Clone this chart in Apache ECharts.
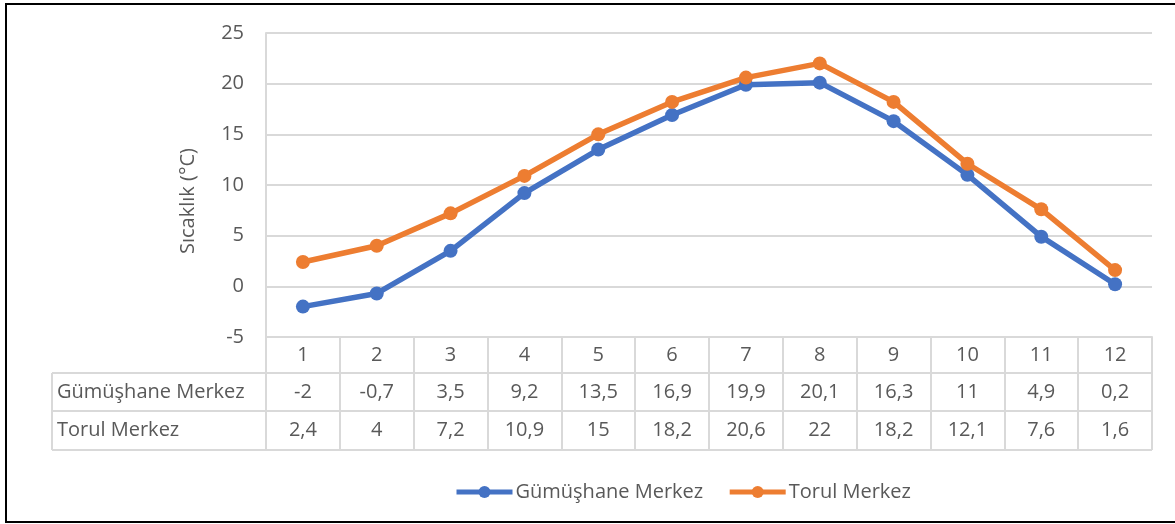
<!DOCTYPE html>
<html>
<head>
<meta charset="utf-8">
<title>Sıcaklık</title>
<script src="https://cdn.jsdelivr.net/npm/echarts@6/dist/echarts.min.js"></script>
<style>
  html, body { margin: 0; padding: 0; background: #fff; }
  #chart { width: 1175px; height: 524px; }
</style>
</head>
<body>
<div id="chart"></div>
<script>
// aylar (1..12)
const months = ["1", "2", "3", "4", "5", "6", "7", "8", "9", "10", "11", "12"];
const gumushane = [-2, -0.7, 3.5, 9.2, 13.5, 16.9, 19.9, 20.1, 16.3, 11, 4.9, 0.2];
const torul = [2.4, 4, 7.2, 10.9, 15, 18.2, 20.6, 22, 18.2, 12.1, 7.6, 1.6];
const seriesNames = ["Gümüşhane Merkez", "Torul Merkez"];
const yTicks = { min: -5, max: 25, interval: 5 };

const FONT = "Open Sans";
const FS = 20;
const TXT = "#595959";
const LINE = "#D9D9D9";
const BLUE = "#4472C4";
const ORANGE = "#ED7D31";

// grid ölçüleri (tablo çizgileri için de kullanılıyor)
const gridLeft = 266, gridRight = 1152, gridTop = 33, gridBottom = 337;
const tableLeft = 52;
const rowLines = [373, 411, 450];

// virgüllü ondalık
function fmt(v) {
  return String(v).replace(".", ",");
}

const chart = echarts.init(document.getElementById("chart"), null, { renderer: "canvas" });

chart.setOption({
  animation: false,
  textStyle: { fontFamily: FONT },
  grid: {
    left: gridLeft,
    right: 1175 - gridRight,
    top: gridTop,
    bottom: 524 - gridBottom,
  },
  legend: {
    data: seriesNames,
    top: 482,
    left: 454,
    padding: 0,
    itemWidth: 56,
    itemHeight: 15,
    itemGap: 24,
    lineStyle: { width: 5 },
    textStyle: { fontFamily: FONT, fontSize: FS, color: TXT, padding: [0, 0, 0, -2] },
  },
  xAxis: {
    type: "category",
    data: months,
    boundaryGap: true,
    axisLine: { show: true, onZero: false, lineStyle: { color: LINE, width: 2 } },
    // ticks act as the table's column separators
    axisTick: {
      show: true,
      interval: 0,
      length: rowLines[2] - gridBottom,
      lineStyle: { color: LINE, width: 2 },
    },
    axisLabel: {
      interval: 0,
      margin: 0,
      verticalAlign: "top",
      formatter: function (value, idx) {
        return "{h|" + value + "}\n{v|" + fmt(gumushane[idx]) + "}\n{w|" + fmt(torul[idx]) + "}";
      },
      rich: {
        h: { fontFamily: FONT, fontSize: FS, color: TXT, lineHeight: 36, align: "center" },
        v: { fontFamily: FONT, fontSize: FS, color: TXT, lineHeight: 38, align: "center" },
        w: { fontFamily: FONT, fontSize: FS, color: TXT, lineHeight: 39, align: "center" },
      },
    },
    splitLine: { show: false },
  },
  yAxis: {
    type: "value",
    min: yTicks.min,
    max: yTicks.max,
    interval: yTicks.interval,
    name: "Sıcaklık (°C)",
    nameLocation: "middle",
    nameGap: 68,
    nameTextStyle: { fontFamily: FONT, fontSize: FS, color: TXT, padding: [0, 32, 0, 0] },
    axisLine: { show: true, lineStyle: { color: LINE, width: 2 } },
    axisTick: { show: false },
    axisLabel: { margin: 22, fontFamily: FONT, fontSize: FS, color: TXT },
    splitLine: { show: true, lineStyle: { color: LINE, width: 2 } },
  },
  series: [
    {
      name: seriesNames[0],
      type: "line",
      data: gumushane,
      symbol: "circle",
      symbolSize: 14,
      lineStyle: { color: BLUE, width: 5.5 },
      itemStyle: { color: BLUE },
    },
    {
      name: seriesNames[1],
      type: "line",
      data: torul,
      symbol: "circle",
      symbolSize: 14,
      lineStyle: { color: ORANGE, width: 5.5 },
      itemStyle: { color: ORANGE },
    },
  ],
  graphic: [
    // dış çerçeve
    {
      type: "rect",
      shape: { x: 6, y: 4, width: 1185, height: 518 },
      style: { fill: null, stroke: "#000", lineWidth: 2 },
      silent: true,
    },
    // tablonun yatay çizgileri
    ...rowLines.map(function (y) {
      return {
        type: "line",
        shape: { x1: tableLeft, y1: y, x2: gridRight, y2: y },
        style: { stroke: LINE, lineWidth: 2 },
        silent: true,
      };
    }),
    {
      type: "line",
      shape: { x1: tableLeft, y1: rowLines[0], x2: tableLeft, y2: rowLines[2] },
      style: { stroke: LINE, lineWidth: 2 },
      silent: true,
    },
    // satır başlıkları
    {
      type: "text",
      x: tableLeft + 5,
      y: (rowLines[0] + rowLines[1]) / 2,
      style: { text: seriesNames[0], font: FS + "px '" + FONT + "'", fill: TXT, verticalAlign: "middle" },
      silent: true,
    },
    {
      type: "text",
      x: tableLeft + 5,
      y: (rowLines[1] + rowLines[2]) / 2,
      style: { text: seriesNames[1], font: FS + "px '" + FONT + "'", fill: TXT, verticalAlign: "middle" },
      silent: true,
    },
  ],
});
</script>
</body>
</html>
